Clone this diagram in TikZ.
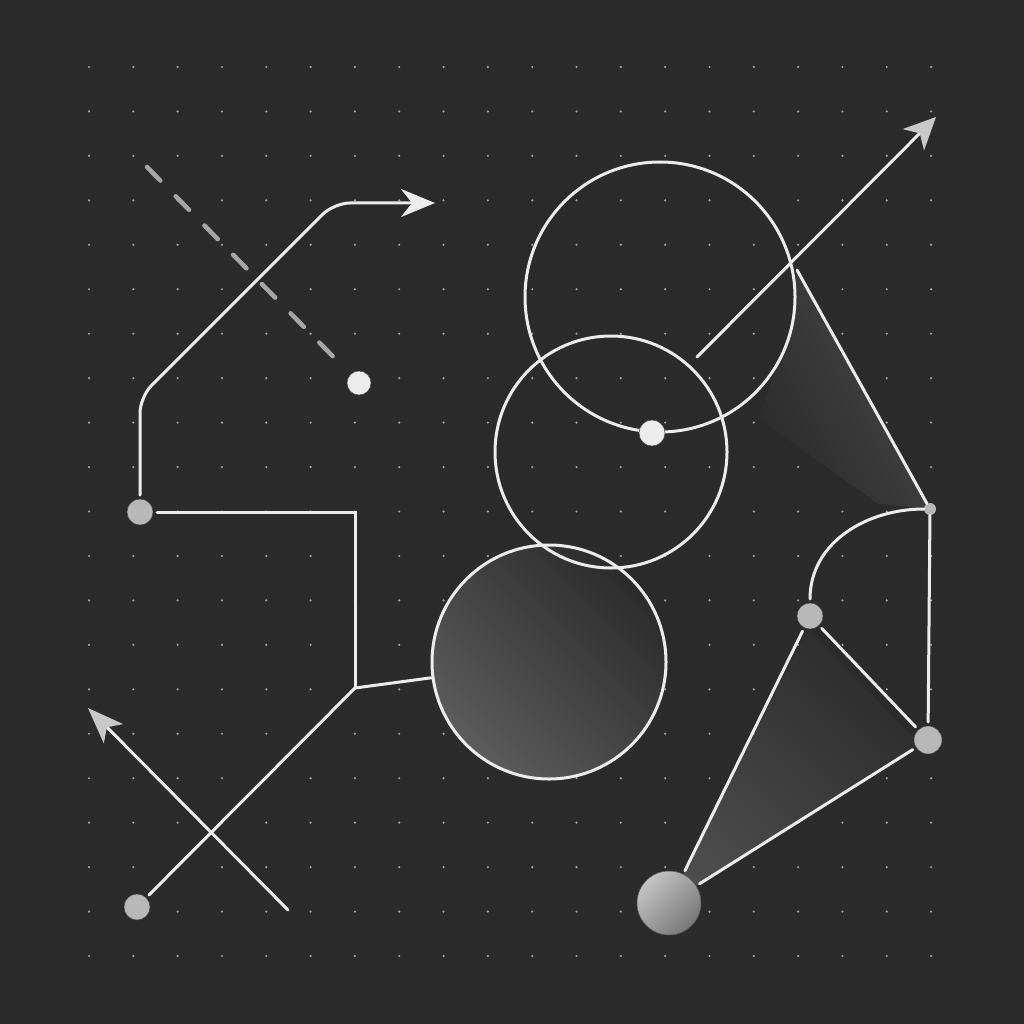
\documentclass[tikz,border=0pt]{standalone}
\usepackage{tikz}
\usetikzlibrary{arrows.meta}
\definecolor{board}{RGB}{43,43,43}
\definecolor{chalk}{RGB}{236,236,236}
\definecolor{pebble}{RGB}{184,184,184}
\definecolor{tipgray}{RGB}{200,200,200}
\definecolor{speck}{RGB}{165,165,165}
\definecolor{haze}{RGB}{92,92,92}
\definecolor{mist}{RGB}{72,72,72}

\begin{document}
\begin{tikzpicture}[
  x=1pt, y=-1pt,
  wire/.style={draw=chalk, line width=3pt, line cap=round},
  ring/.style={circle, draw=chalk, line width=3pt, inner sep=0pt},
  dot/.style={circle, fill=pebble, draw=black!70, line width=0.5pt,
    inner sep=0pt, minimum size=26pt, outer sep=4pt},
  bright dot/.style={dot, fill=chalk},
  dash line/.style={draw=pebble!90!black, line width=4.5pt, line cap=round,
    dash pattern=on 19pt off 22pt}
  ]
  \fill[board] (0,0) rectangle (1024,1024);
  \foreach \i in {0,...,19}
    \foreach \j in {0,...,20}
      \fill[speck] (89+44.32*\i, 67+44.45*\j) circle (1.2pt);

  \shade[top color=mist, middle color=board!65!mist, bottom color=board,
    shading angle=-61]
    (797,270) -- (930,509) -- (878,504) -- (758,418) -- (790,330) -- cycle;
  \shade[top color=board, middle color=board, bottom color=mist!80!haze,
    shading angle=-42]
    (669,903) -- (808,628) -- (920,745) -- cycle;

  \node[ring, minimum size=234pt, top color=board, middle color=board!85!haze,
    bottom color=haze, shading angle=-45] (lower ring) at (549,662) {};
  \node[ring, minimum size=232pt] (middle ring) at (611,452) {};
  \node[ring, minimum size=270pt] (upper ring) at (660,297) {};

  \node[bright dot, minimum size=24pt] (dash end) at (359,383) {};
  \node[bright dot] (ring dot) at (652,433) {};
  \node[dot] (left hub) at (140,512) {};
  \node[dot] (low dot) at (137,907) {};
  \node[dot] (mid dot) at (810,616) {};
  \node[dot, minimum size=28pt] (right dot) at (928,740) {};
  \node[dot, minimum size=64pt, top color=pebble!85!white,
    bottom color=pebble!65!black, shading angle=45] (big ball) at (669,903) {};
  \node[circle, fill=pebble, inner sep=0pt, minimum size=12pt] (knot) at (930,509) {};

  \coordinate (dash start) at (147,167);
  \coordinate (elbow) at (355,688);
  \coordinate (cross tail) at (288,910);
  \coordinate (cross tip) at (88,708);
  \coordinate (ray start) at (697,357);
  \coordinate (ray tip) at (936,117);
  \coordinate (tri top) at (797,270);

  \draw[dash line] (dash start) -- (dash end);
  \draw[wire, rounded corners=16pt, -{Stealth[length=34pt, width=28pt, inset=11pt]}]
    (left hub) -- (140,397) -- (334,203) -- (435,203);
  \draw[wire] (left hub) -- (355,512) -- (elbow);
  \draw[wire] (elbow) -- (lower ring);
  \draw[wire] (elbow) -- (low dot);
  \draw[wire, -{Stealth[length=36pt, width=27pt, inset=9pt, color=tipgray]}]
    (cross tail) -- (cross tip);
  \draw[wire, -{Stealth[length=32pt, width=30pt, inset=9pt, color=tipgray]}]
    (ray start) -- (ray tip);
  \draw[wire] (tri top) -- (knot);
  \draw[wire] (knot) to[out=180, in=90] (mid dot);
  \draw[wire] (knot) -- (right dot);
  \draw[wire] (mid dot) -- (big ball);
  \draw[wire] (mid dot) -- (right dot);
  \draw[wire] (right dot) -- (big ball);
\end{tikzpicture}
\end{document}
